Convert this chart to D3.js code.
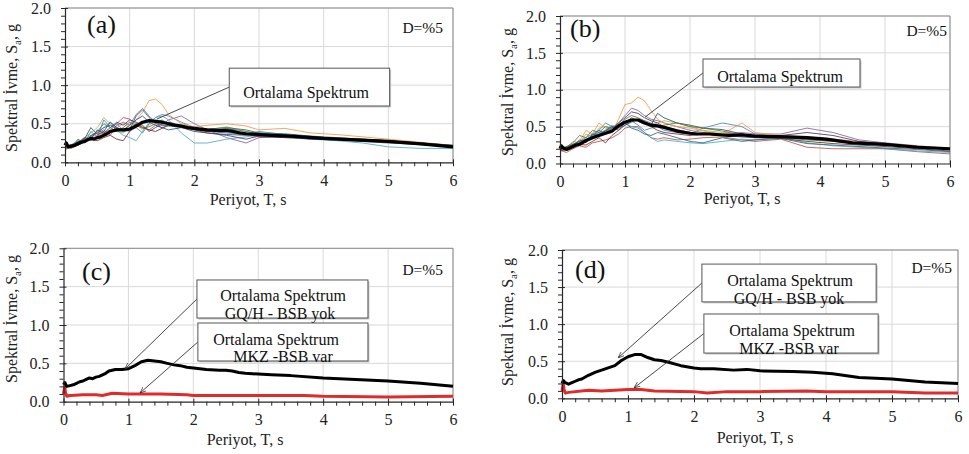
<!DOCTYPE html>
<html>
<head>
<meta charset="utf-8">
<script src="https://cdn.jsdelivr.net/npm/d3@7"></script>
<style>
  html, body { margin: 0; padding: 0; background: #fff; }
  svg { display: block; }
  svg text { font-family: "Liberation Serif", "Times New Roman", serif; }
</style>
</head>
<body>
<svg id="chart" width="969" height="454"></svg>
<script>
// ---- Data ---------------------------------------------------------------
const xTicks = [0, 1, 2, 3, 4, 5, 6];
const yTicks = [0.0, 0.5, 1.0, 1.5, 2.0];
const recordColors = ["#4F81BD", "#C0504D", "#9BBB59", "#8064A2", "#4BACC6", "#F79646",
                      "#2C4D75", "#772C2A", "#5F7530", "#4D3B62", "#276A7C"];

// periods shared by all individual record spectra (s)
const recT = [0, .1, .2, .3, .4, .5, .6, .7, .8, .9, 1.0, 1.1, 1.2, 1.3, 1.4, 1.5, 1.6, 1.8, 2.0, 2.2, 2.5, 2.8, 3.0, 3.4, 3.8, 4.2, 4.6, 5.0, 5.5, 6.0];

// record spectra, set (a)
const recordsA = [
  [.20,.22,.28,.25,.40,.33,.55,.45,.50,.42,.40,.45,.38,.50,.58,.62,.60,.52,.45,.40,.38,.36,.40,.36,.31,.30,.28,.26,.24,.20],
  [.20,.18,.24,.30,.28,.35,.38,.42,.50,.58,.56,.50,.46,.42,.48,.45,.48,.45,.42,.40,.44,.38,.34,.33,.32,.31,.29,.28,.25,.21],
  [.18,.22,.26,.32,.38,.45,.58,.50,.40,.38,.45,.50,.42,.48,.55,.52,.50,.48,.45,.42,.46,.40,.36,.35,.32,.30,.29,.27,.24,.21],
  [.19,.20,.25,.30,.32,.38,.42,.35,.48,.52,.48,.62,.70,.60,.52,.48,.55,.60,.50,.42,.32,.25,.32,.34,.30,.29,.28,.26,.24,.21],
  [.20,.21,.24,.28,.33,.40,.45,.52,.42,.35,.32,.28,.40,.52,.58,.60,.55,.38,.25,.25,.30,.33,.35,.32,.30,.28,.25,.20,.18,.18],
  [.16,.20,.22,.27,.30,.35,.40,.38,.45,.50,.45,.55,.65,.80,.82,.75,.62,.50,.46,.48,.50,.47,.42,.44,.38,.36,.33,.30,.26,.22],
  [.21,.23,.26,.30,.45,.36,.40,.52,.45,.42,.48,.55,.60,.52,.48,.45,.42,.45,.40,.38,.36,.35,.38,.34,.32,.30,.28,.27,.24,.20],
  [.20,.19,.22,.26,.30,.28,.32,.35,.30,.28,.40,.50,.45,.42,.40,.44,.48,.46,.43,.40,.42,.36,.33,.32,.31,.30,.29,.27,.25,.22],
  [.17,.20,.30,.25,.34,.40,.50,.45,.40,.45,.52,.48,.44,.46,.50,.55,.50,.47,.44,.41,.44,.40,.37,.35,.33,.31,.30,.28,.25,.21],
  [.20,.22,.25,.32,.30,.42,.38,.45,.52,.48,.55,.52,.48,.40,.45,.50,.52,.48,.42,.38,.35,.30,.34,.33,.30,.29,.27,.25,.23,.20],
  [.19,.21,.27,.29,.35,.38,.45,.48,.44,.40,.42,.60,.68,.58,.50,.48,.47,.46,.44,.43,.45,.42,.38,.37,.34,.32,.30,.28,.25,.22]
];

// record spectra, set (b)
const recordsB = [
  [.20,.22,.26,.30,.35,.40,.45,.55,.50,.48,.52,.58,.52,.45,.48,.50,.45,.42,.40,.48,.55,.50,.40,.36,.33,.30,.27,.25,.22,.19],
  [.18,.15,.20,.24,.22,.28,.30,.32,.35,.40,.48,.50,.50,.42,.35,.33,.35,.32,.33,.35,.36,.32,.30,.33,.22,.20,.20,.20,.16,.13],
  [.19,.21,.30,.28,.40,.35,.48,.50,.45,.50,.55,.58,.60,.55,.52,.55,.58,.55,.50,.45,.42,.40,.38,.36,.34,.31,.28,.26,.23,.20],
  [.20,.22,.24,.28,.32,.38,.42,.40,.45,.55,.65,.75,.72,.65,.60,.58,.55,.50,.45,.42,.40,.42,.40,.40,.48,.42,.32,.28,.24,.20],
  [.22,.20,.23,.27,.30,.36,.42,.45,.52,.48,.55,.50,.48,.42,.35,.30,.32,.30,.28,.27,.30,.33,.32,.36,.28,.24,.22,.20,.17,.15],
  [.19,.20,.25,.30,.45,.40,.55,.48,.42,.60,.80,.82,.90,.85,.72,.60,.55,.50,.48,.44,.40,.55,.42,.38,.36,.33,.30,.27,.24,.21],
  [.20,.21,.24,.32,.28,.40,.38,.45,.50,.45,.52,.56,.60,.58,.52,.68,.62,.55,.52,.48,.46,.40,.37,.35,.33,.31,.28,.26,.23,.19],
  [.17,.19,.22,.26,.25,.30,.35,.28,.38,.45,.55,.62,.58,.55,.50,.45,.42,.40,.38,.40,.38,.36,.35,.34,.30,.27,.25,.23,.20,.17],
  [.21,.23,.28,.38,.35,.45,.42,.50,.48,.52,.60,.65,.62,.58,.55,.50,.52,.55,.50,.48,.44,.38,.36,.35,.32,.30,.27,.25,.22,.19],
  [.20,.22,.26,.30,.33,.36,.40,.44,.48,.55,.62,.70,.68,.62,.58,.55,.50,.46,.42,.40,.38,.37,.36,.38,.42,.38,.30,.27,.23,.20],
  [.19,.20,.25,.28,.32,.38,.45,.40,.42,.50,.55,.48,.45,.40,.38,.42,.40,.35,.30,.28,.35,.30,.32,.34,.27,.25,.23,.21,.19,.16]
];

// mean spectrum, set (a) — GQ/H, no soil-structure interaction
const meanAT = [0,.02,.05,.1,.15,.2,.25,.3,.35,.4,.45,.5,.55,.6,.65,.7,.8,.9,1.0,1.1,1.2,1.3,1.4,1.5,1.6,1.7,1.8,1.9,2.0,2.2,2.4,2.5,2.6,2.7,2.8,3.0,3.2,3.5,4.0,4.5,5.0,5.5,6.0];
const meanAS = [.22,.25,.20,.21,.22,.24,.26,.27,.29,.31,.30,.32,.33,.35,.37,.40,.42,.42,.43,.47,.52,.54,.53,.52,.50,.48,.47,.45,.44,.42,.41,.41,.40,.38,.37,.36,.35,.34,.31,.29,.27,.24,.20];

// mean spectrum, set (b)
const meanBT = [0,.02,.05,.1,.15,.2,.25,.3,.4,.5,.6,.7,.8,.9,1.0,1.1,1.2,1.3,1.4,1.5,1.6,1.8,2.0,2.1,2.3,2.6,2.8,3.0,3.5,3.8,4.1,4.5,5.0,5.5,6.0];
const meanBS = [.20,.24,.21,.19,.21,.23,.25,.26,.31,.35,.38,.41,.44,.51,.56,.59,.59,.55,.52,.51,.49,.44,.41,.40,.40,.38,.39,.37,.36,.35,.33,.28,.26,.22,.20];

// mean spectra with MKZ model and soil-structure interaction
const mkzCT = [0,.02,.03,.05,.1,.3,.5,.6,.75,1.0,1.5,1.9,2.0,3.0,3.7,4.0,5.0,6.0];
const mkzCS = [.10,.20,.12,.07,.08,.09,.09,.08,.11,.10,.10,.09,.08,.08,.08,.07,.06,.07];
const mkzDT = [0,.02,.03,.05,.1,.4,.6,.8,1.0,1.2,1.4,2.0,2.2,2.5,3.0,3.7,4.0,5.0,5.5,6.0];
const mkzDS = [.10,.20,.12,.07,.08,.11,.10,.11,.12,.12,.10,.09,.07,.09,.09,.10,.09,.09,.07,.07];

const labelOne = ["Ortalama Spektrum"];
const labelGQ = ["Ortalama Spektrum", "GQ/H - BSB yok"];
const labelMKZ = ["Ortalama Spektrum", "MKZ -BSB var"];

// ---- Panels -------------------------------------------------------------
const panels = [
  { tag: "(a)", L: 65, R: 453, T: 8, B: 162.3, tagX: 87, tagY: 33, dX: 443, dY: 33,
    xtX: 248, xtY: 205, ytX: 17, ytY: 88, records: recordsA,
    lines: [{ t: meanAT, s: meanAS, color: "#000", w: 3.2 }],
    notes: [{ text: labelOne, box: [2.54, 5.02, 1.22, 0.73], to: [1.42, 0.56], arrow: false, dy: [5], cx: 306 }] },
  { tag: "(b)", L: 560, R: 950, T: 16, B: 163.5, tagX: 570, tagY: 37, dX: 947, dY: 36,
    xtX: 742, xtY: 204, ytX: 513, ytY: 92, records: recordsB,
    lines: [{ t: meanBT, s: meanBS, color: "#000", w: 3.2 }],
    notes: [{ text: labelOne, box: [2.2, 4.615, 1.417, 1.037], to: [1.31, 0.63], arrow: false, dy: [3], cx: 780 }] },
  { tag: "(c)", L: 63.5, R: 453, T: 248.3, B: 401.7, tagX: 82, tagY: 280, dX: 443, dY: 275,
    xtX: 245, xtY: 445, ytX: 17, ytY: 319, records: [],
    lines: [{ t: meanAT, s: meanAS, color: "#000", w: 3 }, { t: mkzCT, s: mkzCS, color: "#E02B2B", w: 3 }],
    notes: [{ text: labelGQ, box: [2.056, 4.69, 1.587, 1.091], to: [0.947, 0.426], arrow: true, dy: [-4, 14], cx: 283, cx2: 280 },
            { text: labelMKZ, box: [2.07, 4.69, 1.026, 0.531], to: [1.178, 0.113], arrow: true, dy: [-3, 14], cx: 276, cx2: 283 }] },
  { tag: "(d)", L: 562, R: 958, T: 250, B: 398.3, tagX: 575, tagY: 278, dX: 952, dY: 273,
    xtX: 755, xtY: 443, ytX: 513, ytY: 322, records: [],
    lines: [{ t: meanBT, s: meanBS, color: "#000", w: 3 }, { t: mkzDT, s: mkzDS, color: "#E02B2B", w: 3 }],
    notes: [{ text: labelGQ, box: [2.12, 4.76, 1.81, 1.30], to: [0.85, 0.545], arrow: true, dy: [-3, 15], cx: 790, cx2: 789 },
            { text: labelMKZ, box: [2.15, 4.79, 1.137, 0.61], to: [1.09, 0.139], arrow: true, dy: [-3, 15], cx: 792, cx2: 789 }] }
];

const svg = d3.select("#chart");
const defs = svg.append("defs");
defs.append("marker")
  .attr("id", "arr").attr("viewBox", "0 0 10 10").attr("refX", 10).attr("refY", 5)
  .attr("markerWidth", 7).attr("markerHeight", 7).attr("orient", "auto")
  .append("path").attr("d", "M0,1 L10,5 L0,9").attr("fill", "none").attr("stroke", "#333").attr("stroke-width", 1.2);

panels.forEach(p => {
  const x = d3.scaleLinear().domain([0, 6]).range([p.L, p.R]);
  const y = d3.scaleLinear().domain([0, 2]).range([p.B, p.T]);
  const g = svg.append("g");

  // grid
  g.selectAll(".gx").data(xTicks.slice(1)).join("line")
    .attr("x1", d => x(d)).attr("x2", d => x(d)).attr("y1", p.T).attr("y2", p.B)
    .attr("stroke", "#d9d9d9").attr("stroke-width", 1);
  g.selectAll(".gy").data(yTicks.slice(1)).join("line")
    .attr("y1", d => y(d)).attr("y2", d => y(d)).attr("x1", p.L).attr("x2", p.R)
    .attr("stroke", "#d9d9d9").attr("stroke-width", 1);
  // frame (top and right)
  g.append("path")
    .attr("d", `M${p.L},${y(2)} H${x(6)} V${p.B}`)
    .attr("fill", "none").attr("stroke", "#8a8a8a").attr("stroke-width", 1);

  // record spectra
  const line = d3.line().x(d => x(d[0])).y(d => y(d[1]));
  p.records.forEach((r, i) => {
    g.append("path").datum(recT.map((t, k) => [t, r[k]]))
      .attr("d", line).attr("fill", "none")
      .attr("stroke", recordColors[i % recordColors.length])
      .attr("stroke-width", 1).attr("stroke-opacity", 0.85);
  });
  // mean lines
  p.lines.slice().reverse().forEach(l => {
    g.append("path").datum(l.t.map((t, k) => [t, l.s[k]]))
      .attr("d", line).attr("fill", "none").attr("stroke", l.color)
      .attr("stroke-width", l.w).attr("stroke-linejoin", "round");
  });

  // axes
  const xAxis = d3.axisBottom(x).tickValues(xTicks).tickFormat(d3.format("d"))
    .tickSize(4).tickSizeOuter(0).tickPadding(8);
  const gx = g.append("g").attr("transform", `translate(0,${p.B})`).call(xAxis);
  gx.selectAll(".tick line").attr("y1", -3);
  const xMinor = d3.axisBottom(x).tickValues(d3.range(1, 30).map(k => k * 0.2).filter(v => Math.abs(v - Math.round(v)) > 1e-6))
    .tickSize(4).tickSizeOuter(0).tickFormat("");
  g.append("g").attr("transform", `translate(0,${p.B})`).call(xMinor).select(".domain").remove();

  const yAxis = d3.axisLeft(y).tickValues(yTicks).tickSize(4).tickSizeOuter(0).tickPadding(10).tickFormat(d3.format(".1f"));
  const gy = g.append("g").attr("transform", `translate(${p.L},0)`).call(yAxis);
  gy.selectAll(".tick line").attr("x1", 3);
  const yMinor = d3.axisLeft(y).tickValues(d3.range(1, 20).map(k => k / 10).filter(v => Math.abs(v * 2 - Math.round(v * 2)) > 1e-6))
    .tickSize(4).tickSizeOuter(0).tickFormat("");
  g.append("g").attr("transform", `translate(${p.L},0)`).call(yMinor).select(".domain").remove();

  g.selectAll("g").attr("font-family", null).attr("font-size", null);
  g.selectAll(".domain").attr("stroke", "#262626").attr("stroke-width", 1.2);
  g.selectAll(".tick line").attr("stroke", "#262626");
  g.selectAll(".tick text").attr("font-size", 16).attr("fill", "#222");

  // axis titles
  g.append("text").attr("x", p.xtX).attr("y", p.xtY).attr("text-anchor", "middle")
    .attr("font-size", 16).attr("fill", "#222").text("Periyot, T, s");
  const yt = g.append("text").attr("transform", `translate(${p.ytX},${p.ytY}) rotate(-90)`)
    .attr("text-anchor", "middle").attr("font-size", 16).attr("fill", "#222");
  yt.append("tspan").text("Spektral İvme, S");
  yt.append("tspan").attr("font-size", 11).attr("dy", 4).text("a");
  yt.append("tspan").attr("dy", -4).text(", g");

  // panel tag and damping
  g.append("text").attr("x", p.tagX).attr("y", p.tagY).attr("font-size", 26).attr("fill", "#111").text(p.tag);
  g.append("text").attr("x", p.dX).attr("y", p.dY).attr("text-anchor", "end").attr("font-size", 15.5).attr("fill", "#111").text("D=%5");

  // callouts
  p.notes.forEach(n => {
    const bx0 = x(n.box[0]), bx1 = x(n.box[1]), by0 = y(n.box[2]), by1 = y(n.box[3]);
    const midY = (by0 + by1) / 2;
    g.append("line").attr("x1", bx0).attr("y1", midY).attr("x2", x(n.to[0])).attr("y2", y(n.to[1]))
      .attr("stroke", "#333").attr("stroke-width", 0.9)
      .attr("marker-end", n.arrow ? "url(#arr)" : null);
    g.append("rect").attr("x", bx0 + 1.5).attr("y", by0 + 1.5).attr("width", bx1 - bx0).attr("height", by1 - by0)
      .attr("fill", "#c8c8c8");
    g.append("rect").attr("x", bx0).attr("y", by0).attr("width", bx1 - bx0).attr("height", by1 - by0)
      .attr("fill", "#fff").attr("stroke", "#555").attr("stroke-width", 1);
    n.text.forEach((t, k) => {
      g.append("text").attr("x", k === 0 ? n.cx : n.cx2).attr("y", midY + n.dy[k])
        .attr("dy", "0.35em").attr("text-anchor", "middle").attr("font-size", 16).attr("fill", "#111").text(t);
    });
  });
});
</script>
</body>
</html>
